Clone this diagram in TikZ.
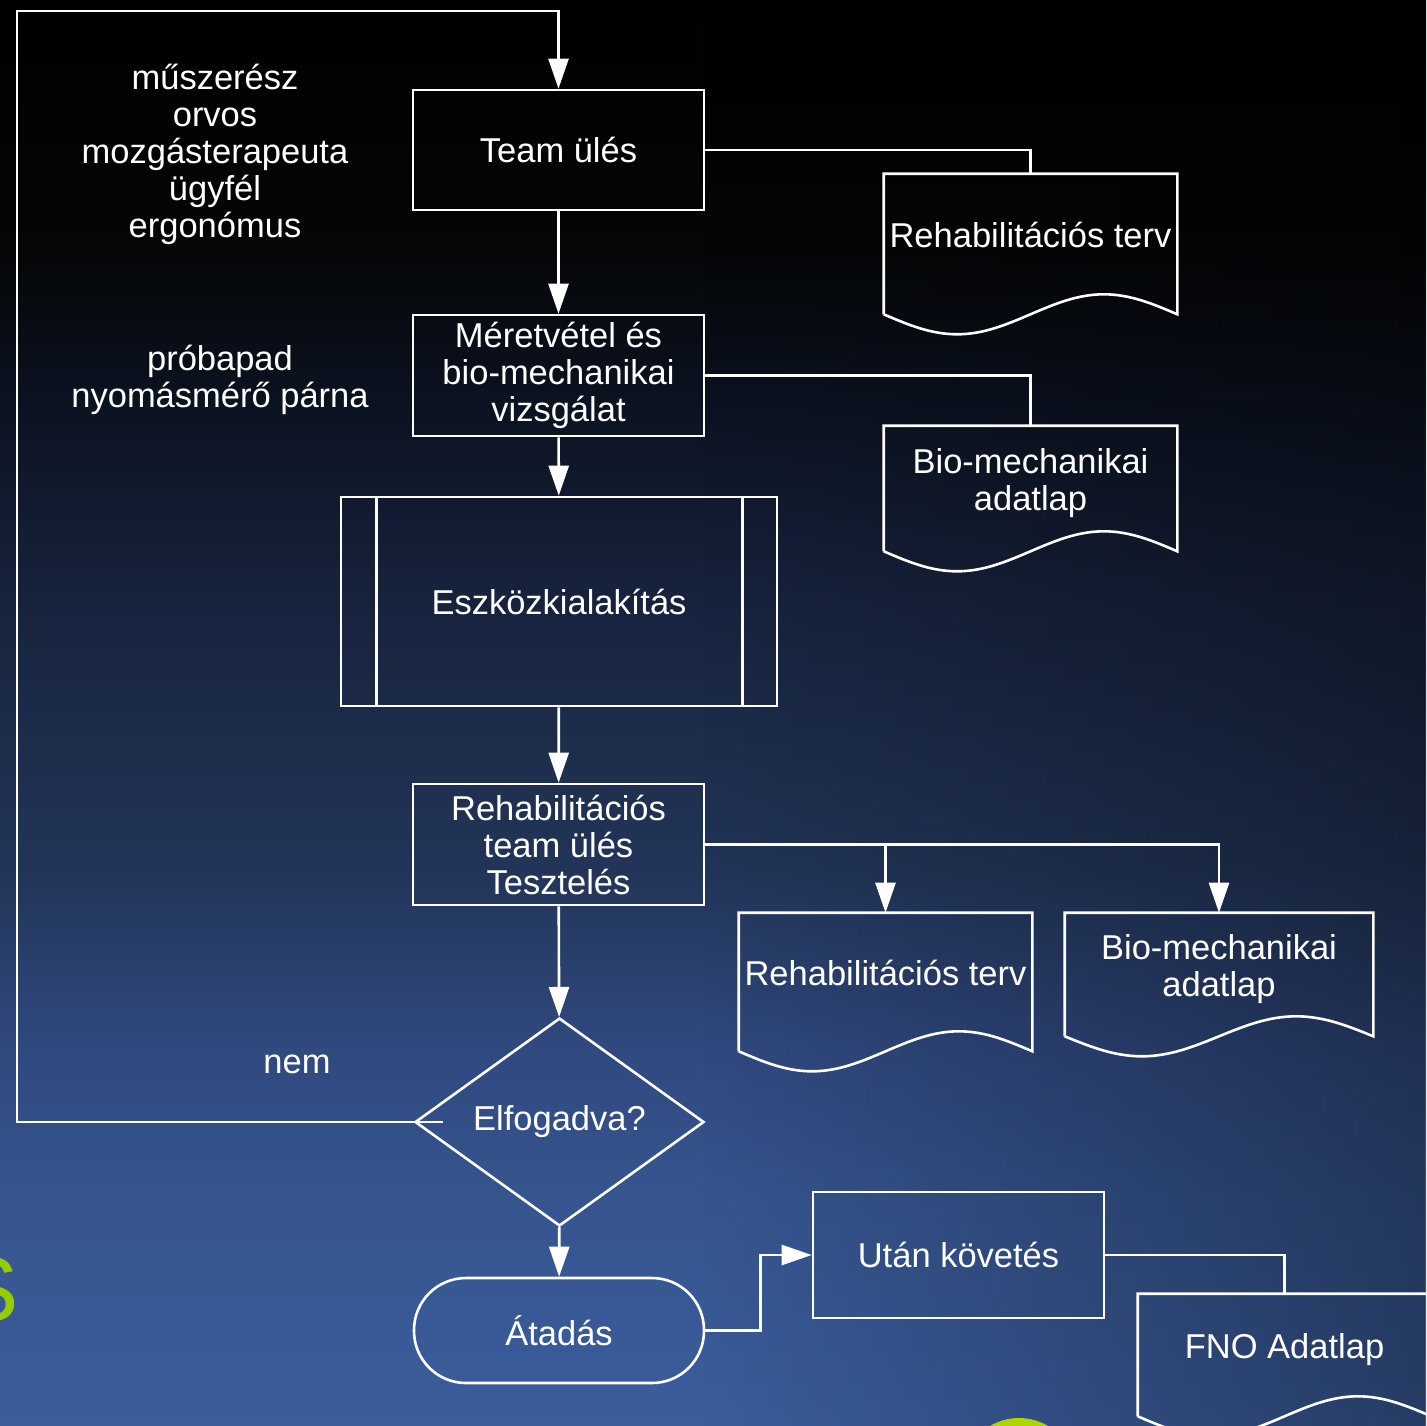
\documentclass[tikz,border=0pt]{standalone}
\usepackage{fontspec}
\setmainfont{Liberation Sans}
\usetikzlibrary{arrows.meta,shapes.geometric,calc,fadings}
\definecolor{slideA}{HTML}{3B5D9C}
\definecolor{slideB}{HTML}{36558F}
\definecolor{slideC}{HTML}{30497F}
\definecolor{slideD}{HTML}{223558}
\definecolor{slideE}{HTML}{17233D}
\definecolor{slideF}{HTML}{0B1220}
\definecolor{slideG}{HTML}{050608}
\definecolor{lime}{HTML}{99CC00}
\pgfdeclareverticalshading{slide}{100bp}{color(0bp)=(slideA); color(25bp)=(slideA);
  color(32.9bp)=(slideB); color(38.2bp)=(slideC); color(44.5bp)=(slideD);
  color(54bp)=(slideE); color(61bp)=(slideF); color(66.2bp)=(slideG);
  color(75bp)=(black); color(100bp)=(black)}
\begin{document}
\begin{tikzpicture}[x=1pt, y=-1pt, line width=2.6pt, white, >={Triangle[length=30pt,width=20pt]},
    every node/.style={text=white, align=center, inner sep=0pt, font=\fontsize{34.5}{37}\selectfont},
    box/.style={draw, minimum width=291pt, minimum height=121pt},
    doc/.style={minimum width=291pt, text depth=18pt}]
  \useasboundingbox (0,0) rectangle (1426,1426);
  \clip (0,0) rectangle (1426,1426);
  \shade[shading=slide] (0,0) rectangle (1426,1426);
  \fill[black, opacity=0.35, path fading=west] (700,0) rectangle (1426,1426);
  \node[text=lime, font=\fontsize{92}{92}\selectfont, anchor=east] (s) at (20,1290) {S};
  \fill[lime!80!yellow] (1019,1475) circle[radius=57pt];

  \node[box, minimum height=120pt] (team) at (558.5,150) {Team ülés};
  \node[box] (meas) at (558.5,375.5) {Méretvétel és\\bio-mechanikai\\vizsgálat};
  \node[box, minimum width=436pt, minimum height=209pt] (esz) at (559,601.5) {Eszközkialakítás};
  \node[box] (rtest) at (558.5,844.5) {Rehabilitációs\\team ülés\\Tesztelés};
  \node[draw, diamond, minimum width=289pt, minimum height=208pt, aspect=1.4] (elf) at (559.5,1122) {Elfogadva?};
  \node[box, minimum width=290pt, minimum height=105pt, rounded corners=52pt] (atad) at (559,1330.5) {Átadás};
  \node[box, minimum height=126pt] (utan) at (958.5,1255) {Után követés};
  \node[doc, minimum height=138pt] (plan1) at (1030.5,244) {Rehabilitációs terv};
  \node[doc, minimum height=123pt] (bio1) at (1030.5,488.5) {Bio-mechanikai\\adatlap};
  \node[doc, minimum height=136pt] (plan2) at (885.5,982) {Rehabilitációs terv};
  \node[doc, minimum width=306pt, minimum height=121pt] (bio2) at (1219,974.5) {Bio-mechanikai\\adatlap};
  \node[doc, minimum height=120pt] (fno) at (1284.5,1355) {FNO Adatlap};

  \node (staff) at (215,154) {műszerész\\orvos\\mozgásterapeuta\\ügyfél\\ergonómus};
  \node (tools) at (220,380) {próbapad\\nyomásmérő párna};
  \node (nem) at (297,1064) {nem};

  \draw ([xshift=37pt]esz.north west) -- ([xshift=37pt]esz.south west);
  \draw ([xshift=-36pt]esz.north east) -- ([xshift=-36pt]esz.south east);
  \foreach \d in {plan1,bio1,plan2,bio2,fno}
    \draw (\d.south west) -- (\d.north west) -- (\d.north east) -- (\d.south east)
      sin ($(\d.south east)!0.25!(\d.south west)+(0,-20)$) cos (\d.south)
      sin ($(\d.south east)!0.75!(\d.south west)+(0,20)$) cos (\d.south west);

  \coordinate (corner) at (17,11);
  \draw[->] ([xshift=29pt]elf.west) -| (corner) -| (team.north);
  \draw[->] (team) -- (meas);
  \draw (team.east) -| (plan1.north);
  \draw (meas.east) -| (bio1.north);
  \draw[->] (meas) -- (esz);
  \draw[->] (esz) -- (rtest);
  \draw[->] (rtest.east) -| (plan2.north);
  \draw[->] (rtest.east) -| (bio2.north);
  \draw[->] (rtest) -- (elf);
  \draw[->] (elf) -- (atad);
  \draw[->] (atad.east) -- ++(55,0) |- (utan.west);
  \draw (utan.east) -| (fno.north);
\end{tikzpicture}
\end{document}
